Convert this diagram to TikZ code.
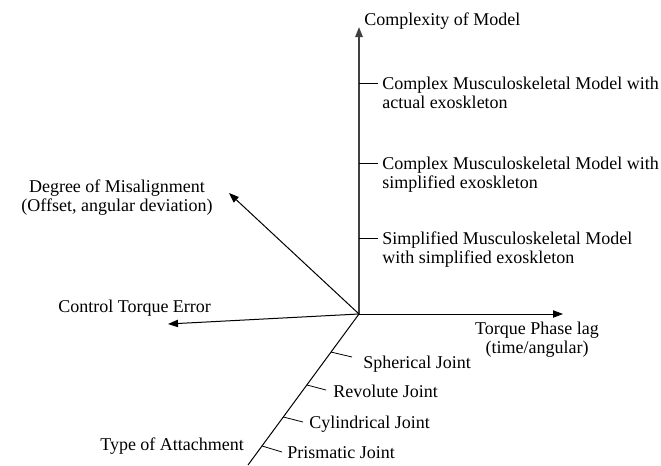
\documentclass[tikz,border=0pt]{standalone}
\usepackage{fontspec}
\setmainfont{Liberation Serif}
\usetikzlibrary{arrows.meta,calc}
\begin{document}
\begin{tikzpicture}[x=0.75pt,y=-0.75pt,
  lbl/.style={inner sep=0pt, font=\fontsize{13.5}{13.9}\selectfont},
  axis/.style={line width=0.75pt, -{Triangle[length=7.5pt,width=5.5pt]}},
  vaxis/.style={line width=1.3pt, draw=black!75, -{Triangle[length=7.5pt,width=5.5pt]}},
  tickline/.style={line width=0.6pt}]
\useasboundingbox (0,0) rectangle (661,465);
% axes
\coordinate (O) at (359,314);
\coordinate (ytip) at (359,27);
\coordinate (xtip) at (563,314);
\coordinate (ctip) at (168,324);
\coordinate (mtip) at (229,193);
\coordinate (aend) at (248,465);
\draw[vaxis] (O) -- (ytip);
\draw[axis] (O) -- (xtip);
\draw[axis] (O) -- (ctip);
\draw[axis] (O) -- (mtip);
\draw[line width=0.75pt] (O) -- (aend);
% axis labels
\node[lbl, anchor=base west] (cm) at (364,25) {Complexity of Model};
\node[lbl, anchor=base, align=center] (dm) at (117,211) {Degree of Misalignment\\(Offset, angular deviation)};
\node[lbl, anchor=base west] (ct) at (58,312) {Control Torque Error};
\node[lbl, anchor=base, align=center] (tp) at (537,353) {Torque Phase lag\\(time/angular)};
\node[lbl, anchor=base west] (ta) at (100,450) {Type of Attachment};
% vertical ticks
\coordinate (v1) at (359,83);  \coordinate (v1e) at (378,83);
\coordinate (v2) at (359,163); \coordinate (v2e) at (378,163);
\coordinate (v3) at (359,238); \coordinate (v3e) at (378,238);
\draw[tickline] (v1) -- (v1e);
\draw[tickline] (v2) -- (v2e);
\draw[tickline] (v3) -- (v3e);
\node[lbl, anchor=base west, align=left] (m1) at (382,108) {Complex Musculoskeletal Model with\\actual exoskleton};
\node[lbl, anchor=base west, align=left] (m2) at (382,188) {Complex Musculoskeletal Model with\\simplified exoskleton};
\node[lbl, anchor=base west, align=left] (m3) at (382,263) {Simplified Musculoskeletal Model\\with simplified exoskleton};
% attachment ticks
\coordinate (a1) at ($(O)!0.252!(aend)$); \coordinate (a1e) at (352,357);
\coordinate (a2) at ($(O)!0.470!(aend)$); \coordinate (a2e) at (326,390);
\coordinate (a3) at ($(O)!0.682!(aend)$); \coordinate (a3e) at (303,422);
\coordinate (a4) at ($(O)!0.874!(aend)$); \coordinate (a4e) at (282,452);
\draw[tickline] (a1) -- (a1e);
\draw[tickline] (a2) -- (a2e);
\draw[tickline] (a3) -- (a3e);
\draw[tickline] (a4) -- (a4e);
\node[lbl, anchor=base west] (j1) at (363,368) {Spherical Joint};
\node[lbl, anchor=base west] (j2) at (333,397) {Revolute Joint};
\node[lbl, anchor=base west] (j3) at (309,428) {Cylindrical Joint};
\node[lbl, anchor=base west] (j4) at (287,458) {Prismatic Joint};
\end{tikzpicture}
\end{document}
